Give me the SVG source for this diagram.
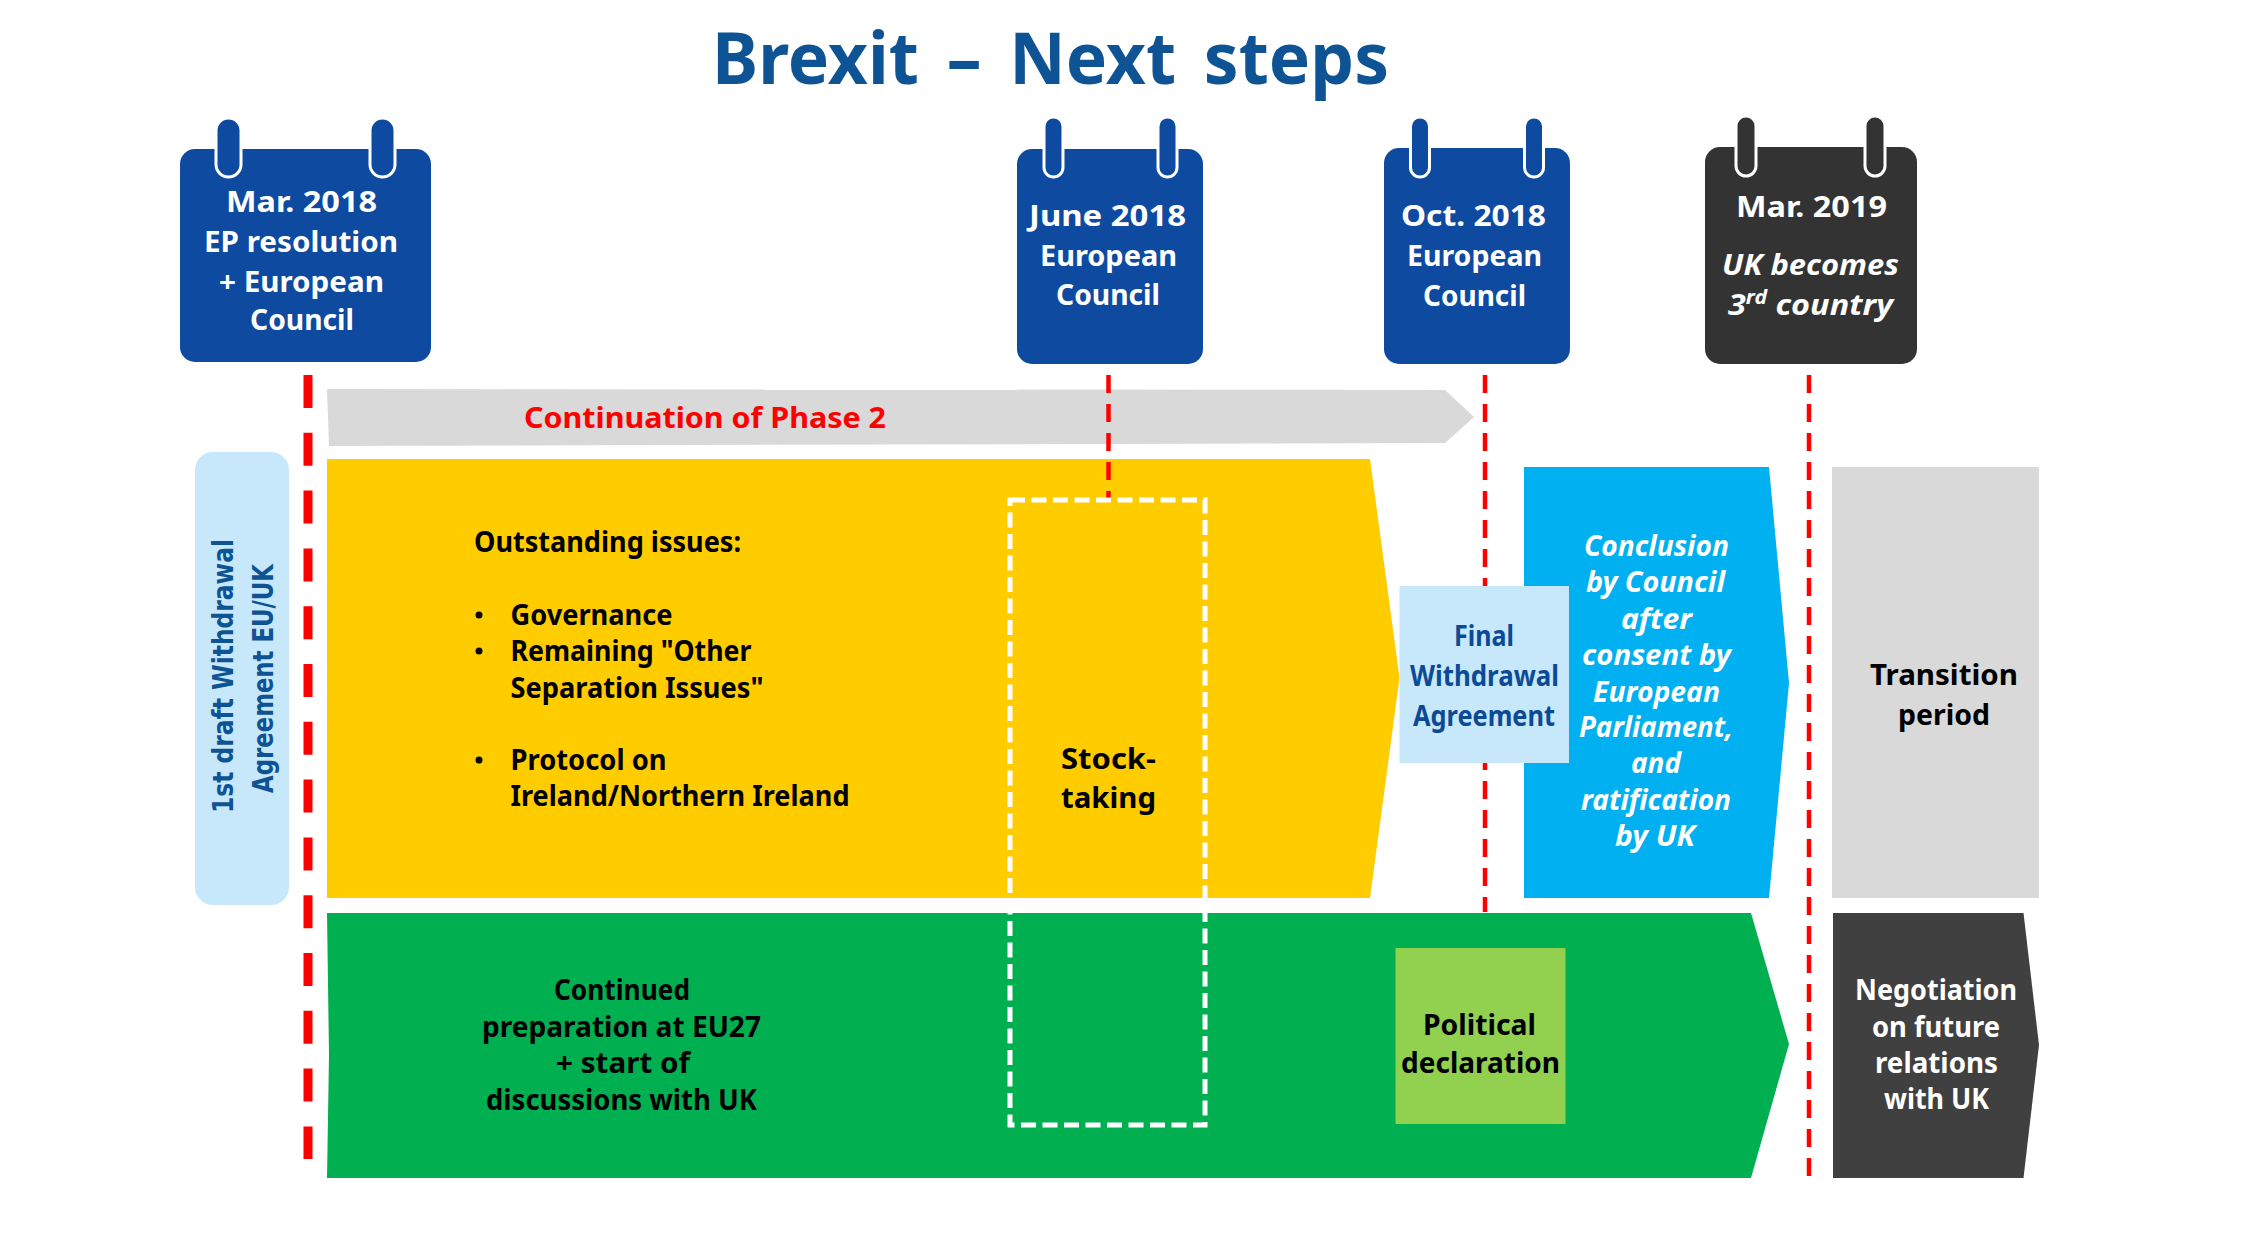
<svg xmlns="http://www.w3.org/2000/svg" width="2246" height="1254" viewBox="0 0 2246 1254">
<style>
text{font-family:"Noto Sans","Open Sans","DejaVu Sans",sans-serif;font-weight:700;font-size:28px;fill:#000}
.w{fill:#fff}.b{fill:#0c4a96}.i{font-style:italic}
.cal{font-size:29px;fill:#fff}
.v{font-family:"DejaVu Sans",sans-serif;font-size:28px;fill:#0e5394}
.ring{stroke:#fff;stroke-width:3}
.blue{fill:#0d4aa0}.dark{fill:#333}
.thin{stroke:#f00;stroke-width:4.5;stroke-dasharray:18 11;fill:none}
.thick{stroke:#f00;stroke-width:9;stroke-dasharray:33 24.8;fill:none}
</style>
<rect width="2246" height="1254" fill="#fff"/>
<g id="title"><text x="712" y="84" word-spacing="10" style="font-size:71px;fill:#0e5394" textLength="677" lengthAdjust="spacingAndGlyphs">Brexit – Next steps</text></g>

<g id="cal-mar-2018">
<rect class="blue" x="180" y="149" width="251" height="213" rx="15"/>
<rect class="blue ring" x="216" y="118" width="25" height="59" rx="12.5"/>
<rect class="blue ring" x="370" y="118" width="25" height="59" rx="12.5"/>
<text class="cal" x="226" y="212" textLength="151" lengthAdjust="spacingAndGlyphs">Mar. 2018</text>
<text class="cal" x="204" y="252" textLength="194" lengthAdjust="spacingAndGlyphs">EP resolution</text>
<text class="cal" x="219" y="292" textLength="165" lengthAdjust="spacingAndGlyphs">+ European</text>
<text class="cal" x="250" y="330" textLength="104" lengthAdjust="spacingAndGlyphs">Council</text>
</g>
<g id="cal-june-2018">
<rect class="blue" x="1017" y="149" width="186" height="215" rx="15"/>
<rect class="blue ring" x="1044" y="117" width="19" height="60" rx="9.5"/>
<rect class="blue ring" x="1158" y="117" width="19" height="60" rx="9.5"/>
<text class="cal" x="1029" y="226" textLength="157" lengthAdjust="spacingAndGlyphs">June 2018</text>
<text class="cal" x="1040" y="266" textLength="137" lengthAdjust="spacingAndGlyphs">European</text>
<text class="cal" x="1056" y="305" textLength="104" lengthAdjust="spacingAndGlyphs">Council</text>
</g>
<g id="cal-oct-2018">
<rect class="blue" x="1384" y="148" width="186" height="216" rx="15"/>
<rect class="blue ring" x="1410.500" y="117" width="19" height="60" rx="9.5"/>
<rect class="blue ring" x="1524.500" y="117" width="19" height="60" rx="9.5"/>
<text class="cal" x="1401" y="226" textLength="145" lengthAdjust="spacingAndGlyphs">Oct. 2018</text>
<text class="cal" x="1407" y="266" textLength="135" lengthAdjust="spacingAndGlyphs">European</text>
<text class="cal" x="1423" y="306" textLength="103" lengthAdjust="spacingAndGlyphs">Council</text>
</g>
<g id="cal-mar-2019">
<rect class="dark" x="1705" y="147" width="212" height="217" rx="15"/>
<rect class="dark ring" x="1736" y="116" width="20" height="60" rx="10"/>
<rect class="dark ring" x="1865" y="116" width="20" height="60" rx="10"/>
<text class="cal" x="1736" y="217" textLength="151" lengthAdjust="spacingAndGlyphs">Mar. 2019</text>
<text class="cal i" x="1722" y="275" textLength="177" lengthAdjust="spacingAndGlyphs">UK becomes</text>
<text class="cal i" x="1728" y="315" textLength="165" lengthAdjust="spacingAndGlyphs">3<tspan dy="-11" style="font-size:19px">rd</tspan><tspan dy="11"> country</tspan></text>
</g>

<g id="phase-2">
<polygon fill="#d9d9d9" points="327,389 1445,390 1474,417 1445,443 329,446"/>
<text x="524" y="428" style="fill:#f00;font-size:29px" textLength="362" lengthAdjust="spacingAndGlyphs">Continuation of Phase 2</text>
</g>
<g id="first-draft">
<rect x="195" y="452" width="94" height="453" rx="18" fill="#c6e8fa"/>
<text class="v" transform="translate(233 813) rotate(-90)" textLength="274" lengthAdjust="spacingAndGlyphs">1st draft Withdrawal</text>
<text class="v" transform="translate(272.500 793) rotate(-90)" textLength="229" lengthAdjust="spacingAndGlyphs">Agreement EU/UK</text>
</g>
<g id="outstanding-issues">
<polygon fill="#fc0" points="327,459 1370,459 1399.500,678 1370,898 327,898"/>
<text x="474" y="552" textLength="267" lengthAdjust="spacingAndGlyphs">Outstanding issues:</text>
<circle cx="479" cy="615" r="3.500"/><circle cx="479" cy="651" r="3.500"/><circle cx="479" cy="760" r="3.500"/>
<text x="510.500" y="625" textLength="162" lengthAdjust="spacingAndGlyphs">Governance</text>
<text x="510.500" y="661" textLength="241" lengthAdjust="spacingAndGlyphs">Remaining "Other</text>
<text x="510.500" y="698" textLength="253" lengthAdjust="spacingAndGlyphs">Separation Issues"</text>
<text x="510.500" y="770" textLength="156" lengthAdjust="spacingAndGlyphs">Protocol on</text>
<text x="510.500" y="806" textLength="339" lengthAdjust="spacingAndGlyphs">Ireland/Northern Ireland</text>
</g>
<g id="conclusion">
<polygon fill="#00b0f0" points="1524,467 1769,467 1789,683 1769,898 1524,898"/>
<text class="w i" x="1584" y="556" textLength="145" lengthAdjust="spacingAndGlyphs">Conclusion</text>
<text class="w i" x="1586" y="592" textLength="139" lengthAdjust="spacingAndGlyphs">by Council</text>
<text class="w i" x="1621" y="629" textLength="71" lengthAdjust="spacingAndGlyphs">after</text>
<text class="w i" x="1582" y="665" textLength="149" lengthAdjust="spacingAndGlyphs">consent by</text>
<text class="w i" x="1593" y="702" textLength="127" lengthAdjust="spacingAndGlyphs">European</text>
<text class="w i" x="1579" y="737" textLength="154" lengthAdjust="spacingAndGlyphs">Parliament,</text>
<text class="w i" x="1631" y="773" textLength="50" lengthAdjust="spacingAndGlyphs">and</text>
<text class="w i" x="1581" y="810" textLength="150" lengthAdjust="spacingAndGlyphs">ratification</text>
<text class="w i" x="1615" y="846" textLength="80" lengthAdjust="spacingAndGlyphs">by UK</text>
</g>
<g id="transition">
<rect x="1832" y="467" width="207" height="431" fill="#d9d9d9"/>
<text x="1870" y="685" textLength="148" lengthAdjust="spacingAndGlyphs">Transition</text>
<text x="1898" y="725" textLength="92" lengthAdjust="spacingAndGlyphs">period</text>
</g>
<g id="continued-preparation">
<polygon fill="#00af50" points="327,913 1751,913 1789,1044 1751,1178 327,1178 329,1055"/>
<text x="554" y="1000" textLength="136" lengthAdjust="spacingAndGlyphs">Continued</text>
<text x="482" y="1037" textLength="279" lengthAdjust="spacingAndGlyphs">preparation at EU27</text>
<text x="556" y="1073" textLength="134" lengthAdjust="spacingAndGlyphs">+ start of</text>
<text x="486" y="1110" textLength="271" lengthAdjust="spacingAndGlyphs">discussions with UK</text>
</g>
<g id="negotiation">
<polygon fill="#404040" points="1833,913 2023.500,913 2039,1045 2023.500,1178 1833,1178"/>
<text class="w" x="1855" y="1000" textLength="162" lengthAdjust="spacingAndGlyphs">Negotiation</text>
<text class="w" x="1872" y="1037" textLength="128" lengthAdjust="spacingAndGlyphs">on future</text>
<text class="w" x="1875" y="1073" textLength="123" lengthAdjust="spacingAndGlyphs">relations</text>
<text class="w" x="1884" y="1109" textLength="105" lengthAdjust="spacingAndGlyphs">with UK</text>
</g>
<g id="political-declaration">
<rect x="1395.500" y="948" width="170" height="176" fill="#92d050"/>
<text x="1423" y="1035" textLength="113" lengthAdjust="spacingAndGlyphs">Political</text>
<text x="1401" y="1073" textLength="159" lengthAdjust="spacingAndGlyphs">declaration</text>
</g>

<g id="connectors">
<line class="thick" x1="308" y1="375" x2="308" y2="1159"/>
<line class="thin" x1="1108.500" y1="375" x2="1108.500" y2="500"/>
<line class="thin" x1="1485" y1="375" x2="1485" y2="912"/>
<line class="thin" x1="1809" y1="375" x2="1809" y2="1186"/>
</g>

<g id="final-agreement">
<rect x="1399.500" y="586" width="169.500" height="177" fill="#c6e8fa"/>
<text class="b" x="1454" y="646" textLength="60" lengthAdjust="spacingAndGlyphs">Final</text>
<text class="b" x="1410" y="686" textLength="149" lengthAdjust="spacingAndGlyphs">Withdrawal</text>
<text class="b" x="1413" y="726" textLength="142" lengthAdjust="spacingAndGlyphs">Agreement</text>
</g>
<g id="stock-taking">
<rect x="1010" y="500" width="195" height="625" fill="none" stroke="#fff" stroke-width="5" stroke-dasharray="15 6.500"/>
<text x="1061" y="769" textLength="95" lengthAdjust="spacingAndGlyphs">Stock-</text>
<text x="1061" y="808" textLength="95" lengthAdjust="spacingAndGlyphs">taking</text>
</g>
</svg>
